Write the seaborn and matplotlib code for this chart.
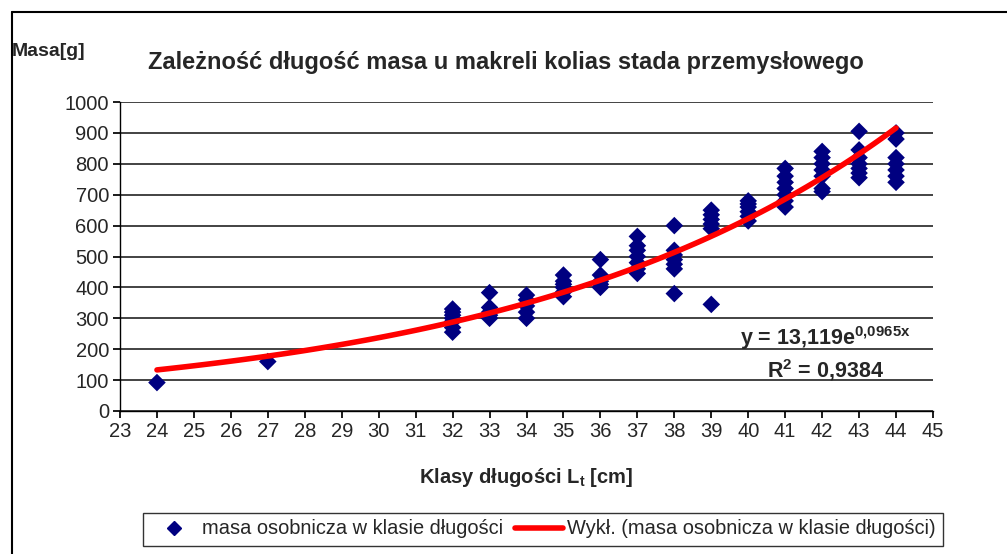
import matplotlib.pyplot as plt
import numpy as np
import pandas as pd
import seaborn as sns
from matplotlib.lines import Line2D

# Length classes and individual masses
CLASS_24 = [92]
CLASS_27 = [160]
CLASS_32 = [255, 270, 290, 300, 310, 320, 330]
CLASS_33 = [300, 310, 320, 335, 383]
CLASS_34 = [300, 320, 340, 360, 375]
CLASS_35 = [370, 385, 400, 410, 420, 440]
CLASS_36 = [400, 410, 420, 440, 490]
CLASS_37 = [445, 460, 480, 500, 520, 535, 565]
CLASS_38 = [380, 460, 475, 490, 505, 520, 600]
CLASS_39 = [345, 590, 605, 620, 635, 650]
CLASS_40 = [615, 630, 645, 660, 670, 680]
CLASS_41 = [660, 680, 700, 720, 740, 760, 785]
CLASS_42 = [710, 720, 760, 780, 800, 820, 840]
CLASS_43 = [755, 770, 785, 800, 820, 845, 905]
CLASS_44 = [740, 760, 780, 800, 820, 880, 900]

CLASSES = {24: CLASS_24, 27: CLASS_27, 32: CLASS_32, 33: CLASS_33, 34: CLASS_34,
           35: CLASS_35, 36: CLASS_36, 37: CLASS_37, 38: CLASS_38, 39: CLASS_39,
           40: CLASS_40, 41: CLASS_41, 42: CLASS_42, 43: CLASS_43, 44: CLASS_44}

# Exponential trend line as printed on the chart: y = 13,119 e^(0,0965x)
TREND_A = 13.119
TREND_B = 0.0965
TREND_X = [24, 44]

X_TICKS = list(range(23, 46))
Y_TICKS = list(range(0, 1001, 100))

LEG_POINTS = "masa osobnicza w klasie długości"
LEG_TREND = "Wykł. (masa osobnicza w klasie długości)"

sns.set_theme(style="white")
plt.rcParams["font.family"] = ["Liberation Sans", "DejaVu Sans"]

rows = [(k, v) for k, vals in CLASSES.items() for v in vals]
df = pd.DataFrame(rows, columns=["length", "mass"])

tx = np.linspace(TREND_X[0], TREND_X[1], 100)
trend = pd.DataFrame({"length": tx, "mass": TREND_A * np.exp(TREND_B * tx)})

fig = plt.figure(figsize=(10.07, 5.54), dpi=100)
ax = fig.add_axes([120 / 1007, 1 - 411 / 554, (933 - 120) / 1007, (411 - 102) / 554])

sns.scatterplot(data=df, x="length", y="mass", marker="D", color="#000080",
                s=80, edgecolor="none", ax=ax, zorder=3, legend=False)
sns.lineplot(data=trend, x="length", y="mass", color="#ff0000", lw=4,
             ax=ax, zorder=4, legend=False)

ax.set_xlim(23, 45)
ax.set_ylim(0, 1000)
ax.set_xticks(X_TICKS)
ax.set_yticks(Y_TICKS)
ax.yaxis.grid(True, color="#222222", lw=1.2)
ax.set_axisbelow(True)
for side in ["top", "right"]:
    ax.spines[side].set_visible(False)
for side in ["left", "bottom"]:
    ax.spines[side].set_color("black")
    ax.spines[side].set_linewidth(1.0)
ax.tick_params(axis="both", which="major", labelsize=14.5, length=5,
               direction="out", color="black", left=True, bottom=True, pad=3)
ax.set_xlabel("Klasy długości L$_\\mathregular{t}$ [cm]", fontsize=14.5,
              fontweight="bold", labelpad=18)
ax.set_ylabel("")

fig.text(12 / 1007, 1 - 52 / 554, "Masa[g]", fontsize=14, fontweight="bold",
         va="center", ha="left")
fig.text(506 / 1007, 1 - 62 / 554,
         "Zależność długość masa u makreli kolias stada przemysłowego",
         fontsize=17, fontweight="bold", ha="center", va="center")

ax.text(42.08, 236, "y = 13,119e$^{\\mathregular{0{,}0965x}}$", fontsize=15.5,
        fontweight="bold", ha="center", va="center")
ax.text(42.1, 133, "R$^{\\mathregular{2}}$ = 0,9384", fontsize=15.5,
        fontweight="bold", ha="center", va="center")

# outer chart frame (left and top edges visible)
fig.add_artist(Line2D([12 / 1007, 12 / 1007], [0, 1 - 12 / 554],
                      transform=fig.transFigure, color="black", lw=1.5))
fig.add_artist(Line2D([12 / 1007, 1], [1 - 12 / 554, 1 - 12 / 554],
                      transform=fig.transFigure, color="black", lw=1.5))

handles = [
    Line2D([], [], marker="D", color="#000080", ls="none", markersize=7),
    Line2D([], [], color="#ff0000", lw=4),
]
leg = fig.legend(handles, [LEG_POINTS, LEG_TREND], loc="center",
                 bbox_to_anchor=(543 / 1007, 1 - 529 / 554), ncol=2,
                 fontsize=14.4, frameon=True, fancybox=False, handlelength=2.4,
                 handletextpad=0.2, columnspacing=0.6, borderpad=0.35)
leg.get_frame().set_edgecolor("black")
leg.get_frame().set_linewidth(1.0)

fig.savefig("out.png", dpi=100)
